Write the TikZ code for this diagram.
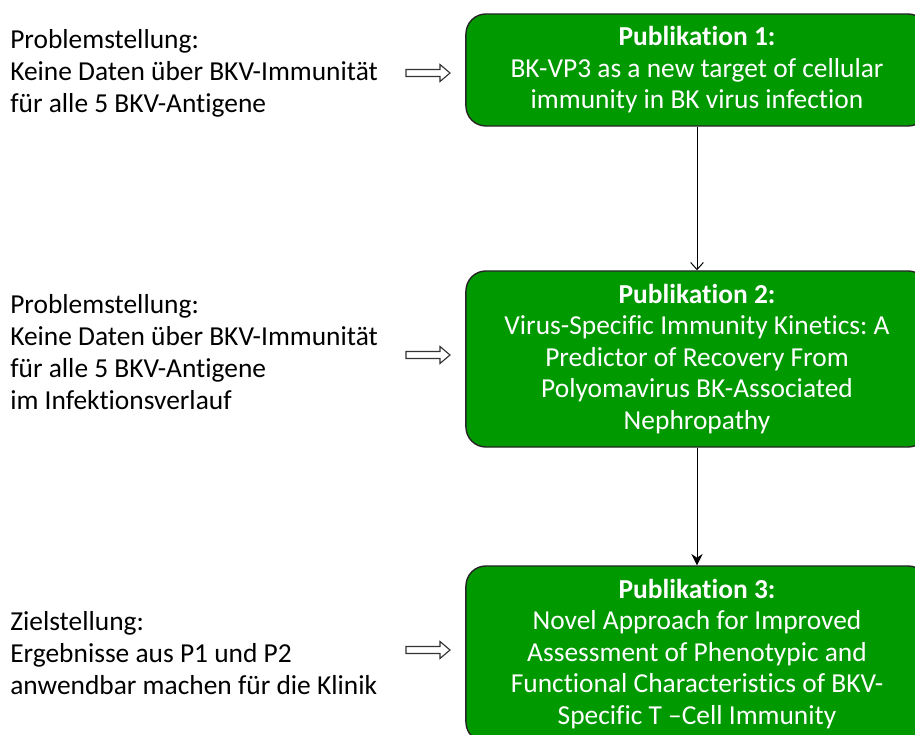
\documentclass[tikz,border=0pt]{standalone}
\usepackage{fontspec}
\setmainfont{Carlito}[Ligatures=NoCommon]
\usetikzlibrary{arrows.meta}
\frenchspacing

\begin{document}
\begin{tikzpicture}[
x=0.025cm, y=-0.025cm,
kasten/.style={draw=black!85, line width=1pt, fill=green!60!black, rounded corners=0.5cm, text=white, align=center, minimum width=11.55cm, font=\fontsize{19.5}{22.4}\selectfont},
hinweis/.style={anchor=west, align=left, inner sep=0pt, font=\fontsize{19.5}{22.8}\selectfont},
blockpfeil/.style={draw=black!80, line width=0.8pt, fill=white, line join=miter},
]

\useasboundingbox (0,0) rectangle (915,735);
\clip (0,0) rectangle (915,735);

% Publikationen
\node[kasten, minimum height=2.8cm] (P1) at (697,70) {\textbf{Publikation 1:}\\BK-VP3 as a new target of cellular\\immunity in BK virus infection};
\node[kasten, minimum height=4.4cm] (P2) at (697,359) {\textbf{Publikation 2:}\\Virus-Specific Immunity Kinetics: A\\Predictor of Recovery From\\Polyomavirus BK-Associated\\Nephropathy};
\node[kasten, minimum height=4.4cm] (P3) at (697,654) {\textbf{Publikation 3:}\\Novel Approach for Improved\\Assessment of Phenotypic and\\Functional Characteristics of BKV-\\Specific T --Cell Immunity};

\draw[-{Straight Barb[length=5pt,width=9pt]}, line width=0.7pt] (P1) -- (P2);
\draw[-{Stealth[length=8pt,width=8pt]}, line width=0.7pt] (P2) -- (P3);

% Problemstellungen links
\node[hinweis] (T1) at (10,73) {Problemstellung:\\Keine Daten über BKV-Immunität\\für alle 5 BKV-Antigene};
\node[hinweis] (T2) at (10,352) {Problemstellung:\\Keine Daten über BKV-Immunität\\für alle 5 BKV-Antigene\\im Infektionsverlauf};
\node[hinweis] (T3) at (10,653) {Zielstellung:\\Ergebnisse aus P1 und P2\\anwendbar machen für die Klinik};

% Blockpfeile
\foreach \y in {73,355,650}
  \draw[blockpfeil] (406,\y-3.5) -- ++(34,0) -- ++(0,-5) -- (450,\y) -- (440,\y+8.5) -- ++(0,-5) -- (406,\y+3.5) -- cycle;

\end{tikzpicture}
\end{document}
